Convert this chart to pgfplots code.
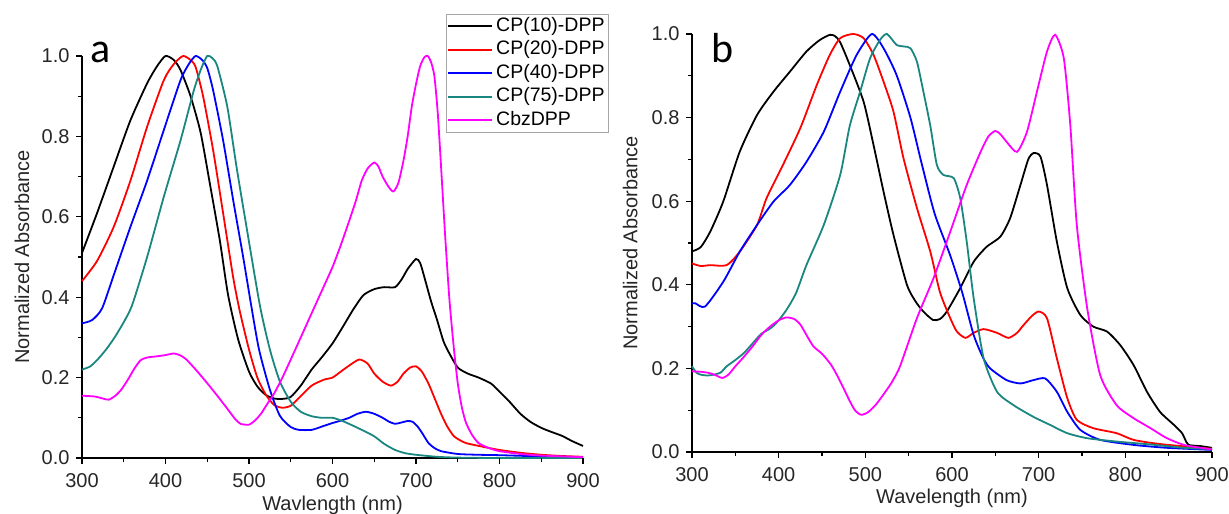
\documentclass[border=0pt]{standalone}
\usepackage{pgfplots}
\pgfplotsset{compat=1.18}
\usepackage{fontspec}
\setmainfont{Liberation Sans}
\newfontfamily\calibri{Carlito}
\definecolor{cteal}{RGB}{25,135,128}
\definecolor{cmag}{RGB}{255,0,255}
\definecolor{cred}{RGB}{255,0,0}
\definecolor{cblue}{RGB}{0,0,255}
\newcommand\myticks{%
  \pgfplotsinvokeforeach{300,400,500,600,700,800,900}{\draw[black, line width=1.3pt] (axis cs:##1,0) -- ++(0pt,-6pt);}%
  \pgfplotsinvokeforeach{350,450,550,650,750,850}{\draw[black, line width=1.3pt] (axis cs:##1,0) -- ++(0pt,-4pt);}%
  \pgfplotsinvokeforeach{0,0.2,0.4,0.6,0.8,1.0}{\draw[black, line width=1.3pt] (axis cs:300,##1) -- ++(-6pt,0pt);}%
  \pgfplotsinvokeforeach{0.1,0.3,0.5,0.7,0.9}{\draw[black, line width=1.3pt] (axis cs:300,##1) -- ++(-4pt,0pt);}%
}
\pgfplotsset{
  cv/.style={line width=1.8pt, smooth, tension=0.4},
  spec/.style={
    scale only axis,
    xmin=300, xmax=900, ymin=0, ymax=1.0,
    axis x line*=bottom, axis y line*=left,
    axis line style={line width=1.6pt},
    tick align=outside, major tick length=6pt, minor tick length=4pt,
    every tick/.style={draw=black, line width=1.3pt},
    xtick={300,400,500,600,700,800,900}, minor x tick num=1,
    ytick={0,0.2,0.4,0.6,0.8,1.0}, minor y tick num=1,
    /pgf/number format/assume math mode=true,
    tick label style={font=\fontsize{20}{23}\selectfont, color=black!85},
    x tick label style={yshift=-6pt},
    y tick label style={xshift=-3pt, /pgf/number format/fixed, /pgf/number format/fixed zerofill, /pgf/number format/precision=1},
    xlabel style={font=\fontsize{20}{24}\selectfont, color=black!85},
    ylabel style={font=\fontsize{20}{24}\selectfont, color=black!85},
    clip=false,
    legend image code/.code={\draw[#1] (0pt,0pt) -- (44pt,0pt);},
  }
}
\begin{document}
\begin{tikzpicture}
\useasboundingbox (0pt,0pt) rectangle (1229pt,514pt);
% ---------------- panel a ----------------
\begin{axis}[spec,
  at={(82pt,56pt)}, anchor=south west,
  width=501pt, height=402pt,
  xlabel={Wavlength (nm)}, ylabel={Normalized Absorbance},
  xlabel style={at={(axis description cs:0.5,-0.117)}, anchor=center},
  ylabel style={at={(axis description cs:-0.12,0.5)}, rotate=0, anchor=center},
  legend style={at={(axis description cs:0.7265,1.104)}, anchor=north west,
    draw=gray!70, line width=0.8pt, font=\fontsize{19.5}{22}\selectfont,
    cells={anchor=west}, inner xsep=1pt, inner ysep=0pt, row sep=0pt,
    nodes={inner sep=3pt, text height=13.5pt, text depth=4pt}},
]
\addplot[cv, black] coordinates {(300,0.51)(318,0.609)(338,0.725)(358,0.84)(378,0.932)(390,0.975)(400,1.0)(410,0.99)(418,0.965)(430,0.9)(442,0.81)(453,0.684)(465,0.542)(475,0.405)(487,0.295)(500,0.215)(510,0.178)(520,0.157)(530,0.148)(540,0.147)(550,0.152)(562,0.18)(575,0.22)(587,0.25)(600,0.285)(612,0.325)(625,0.37)(637,0.405)(650,0.42)(662,0.425)(675,0.425)(683,0.445)(690,0.47)(700,0.495)(705,0.485)(710,0.45)(718,0.39)(725,0.345)(733,0.29)(740,0.26)(750,0.225)(762,0.21)(775,0.2)(790,0.185)(800,0.165)(812,0.14)(825,0.11)(837,0.09)(850,0.075)(862,0.065)(875,0.055)(887,0.042)(900,0.03)};
\addlegendentry{CP(10)-DPP}
\addplot[cv, cred] coordinates {(300,0.44)(318,0.49)(338,0.575)(358,0.69)(378,0.824)(398,0.94)(410,0.98)(421,1.0)(430,0.99)(436,0.973)(445,0.9)(457,0.766)(469,0.609)(481,0.45)(489,0.365)(500,0.27)(510,0.2)(520,0.158)(530,0.132)(540,0.125)(550,0.13)(560,0.15)(575,0.18)(590,0.195)(600,0.2)(610,0.215)(620,0.23)(632,0.245)(642,0.235)(650,0.21)(660,0.19)(670,0.18)(678,0.19)(685,0.21)(693,0.225)(700,0.228)(707,0.215)(715,0.185)(722,0.15)(730,0.11)(737,0.08)(745,0.055)(752,0.045)(760,0.037)(780,0.028)(800,0.02)(825,0.013)(850,0.008)(875,0.005)(900,0.003)};
\addlegendentry{CP(20)-DPP}
\addplot[cv, cblue] coordinates {(300,0.335)(312,0.343)(324,0.372)(338,0.455)(358,0.575)(378,0.69)(398,0.816)(418,0.94)(428,0.98)(436,1.0)(444,0.99)(450,0.97)(457,0.915)(469,0.79)(481,0.642)(493,0.5)(503,0.375)(512,0.27)(525,0.17)(537,0.105)(550,0.077)(560,0.07)(575,0.07)(587,0.078)(600,0.087)(610,0.093)(620,0.1)(630,0.11)(640,0.115)(650,0.11)(660,0.1)(668,0.09)(675,0.085)(682,0.088)(690,0.092)(696,0.09)(702,0.078)(708,0.06)(715,0.037)(722,0.025)(730,0.017)(750,0.01)(775,0.008)(800,0.007)(850,0.004)(900,0.002)};
\addlegendentry{CP(40)-DPP}
\addplot[cv, cteal] coordinates {(300,0.22)(310,0.228)(320,0.248)(330,0.273)(340,0.303)(350,0.338)(360,0.38)(378,0.5)(398,0.65)(418,0.79)(434,0.915)(443,0.97)(450,1.0)(456,0.995)(462,0.975)(474,0.874)(485,0.725)(497,0.575)(513,0.38)(525,0.27)(537,0.19)(550,0.14)(562,0.115)(575,0.104)(587,0.1)(600,0.1)(612,0.092)(625,0.08)(637,0.068)(650,0.054)(662,0.035)(675,0.02)(687,0.012)(700,0.008)(725,0.003)(750,0.001)(800,0)(900,0)};
\addlegendentry{CP(75)-DPP}
\addplot[cv, cmag] coordinates {(300,0.155)(315,0.153)(325,0.148)(332,0.145)(340,0.155)(347,0.17)(355,0.195)(362,0.22)(370,0.243)(378,0.25)(390,0.253)(400,0.256)(410,0.26)(418,0.255)(425,0.245)(437,0.218)(450,0.186)(462,0.155)(475,0.12)(483,0.098)(490,0.085)(500,0.083)(508,0.095)(515,0.112)(522,0.135)(530,0.16)(540,0.2)(550,0.245)(562,0.3)(575,0.36)(587,0.415)(600,0.475)(610,0.53)(620,0.59)(628,0.64)(635,0.69)(642,0.72)(650,0.735)(655,0.725)(660,0.70)(667,0.675)(673,0.663)(679,0.685)(685,0.74)(690,0.8)(695,0.875)(700,0.93)(705,0.975)(710,0.997)(714,1.0)(718,0.985)(722,0.95)(726,0.86)(730,0.725)(735,0.55)(740,0.395)(745,0.28)(750,0.186)(755,0.125)(760,0.087)(767,0.058)(775,0.037)(787,0.025)(800,0.017)(825,0.01)(850,0.006)(875,0.004)(900,0.002)};
\addlegendentry{CbzDPP}
\myticks
\node[anchor=base west, font=\calibri\fontsize{42}{46}\selectfont, inner sep=0pt] at (axis description cs:0.016,0.985) {a};
\end{axis}
% ---------------- panel b ----------------
\begin{axis}[spec,
  at={(692pt,62pt)}, anchor=south west,
  width=520pt, height=418pt,
  xlabel={Wavelength (nm)}, ylabel={Normalized Absorbance},
  xlabel style={at={(axis description cs:0.5,-0.112)}, anchor=center},
  ylabel style={at={(axis description cs:-0.119,0.5)}, rotate=0, anchor=center},
]
\addplot[cv, black] coordinates {(300,0.48)(310,0.49)(321,0.527)(336,0.599)(355,0.718)(375,0.806)(394,0.862)(413,0.91)(432,0.958)(447,0.985)(459,0.998)(465,0.995)(471,0.98)(482,0.926)(498,0.838)(509.5,0.734)(521,0.623)(532.5,0.519)(548,0.4)(558,0.36)(567,0.336)(578,0.316)(586,0.318)(594,0.336)(609.5,0.392)(625,0.455)(640,0.491)(655.7,0.515)(667,0.559)(679,0.639)(688,0.7)(694,0.715)(702,0.707)(709.6,0.639)(721,0.503)(733,0.392)(748,0.328)(763,0.30)(779,0.288)(794,0.256)(809.5,0.208)(825,0.144)(840,0.096)(856,0.065)(865.5,0.045)(869,0.03)(873,0.017)(887,0.014)(900,0.01)};
\addplot[cv, cred] coordinates {(300,0.451)(310,0.445)(321,0.447)(340,0.447)(355,0.479)(375,0.543)(386,0.607)(405,0.687)(425,0.775)(444,0.878)(459,0.95)(471,0.99)(486,1.0)(498,0.99)(509.5,0.95)(521,0.886)(532.5,0.814)(544,0.703)(559.5,0.584)(575,0.479)(586,0.383)(598,0.32)(605.7,0.288)(615.5,0.273)(625,0.285)(636.5,0.294)(652,0.285)(665,0.273)(675,0.285)(682.7,0.304)(692,0.325)(700,0.336)(709.6,0.32)(721,0.224)(733,0.129)(744,0.077)(763,0.057)(790,0.045)(809.5,0.029)(840,0.019)(887,0.01)(900,0.008)};
\addplot[cv, cblue] coordinates {(300,0.355)(303.5,0.356)(315,0.348)(336,0.407)(355,0.479)(375,0.543)(394,0.599)(413,0.639)(432,0.694)(452,0.766)(471,0.862)(490,0.95)(507.5,1.0)(521,0.966)(536,0.902)(552,0.8)(565,0.69)(580,0.57)(598,0.47)(612,0.38)(625,0.28)(636,0.225)(644,0.2)(663,0.172)(679,0.164)(694,0.172)(707.6,0.176)(721,0.144)(733,0.096)(748,0.053)(771,0.029)(809.5,0.017)(848,0.01)(900,0.005)};
\addplot[cv, cteal] coordinates {(300,0.205)(305,0.19)(310,0.185)(318,0.183)(325,0.185)(333,0.19)(340,0.205)(350,0.22)(360,0.237)(370,0.26)(380,0.283)(390,0.295)(398,0.31)(409,0.34)(420,0.38)(432,0.447)(452,0.543)(471,0.663)(482,0.78)(494,0.862)(505.5,0.942)(517,0.986)(525,1.0)(536,0.974)(545,0.97)(552,0.966)(559.5,0.934)(567,0.862)(575,0.78)(582.5,0.687)(590,0.663)(602,0.655)(609.5,0.607)(617,0.503)(625,0.368)(636.5,0.224)(652,0.144)(671,0.112)(694,0.084)(713,0.065)(733,0.045)(756,0.033)(790,0.025)(829,0.018)(867.5,0.01)(900,0.007)};
\addplot[cv, cmag] coordinates {(300,0.193)(310,0.192)(320,0.189)(328,0.183)(335,0.177)(342,0.185)(350,0.205)(360,0.228)(370,0.253)(380,0.28)(390,0.3)(400,0.315)(409,0.322)(418,0.318)(425,0.305)(432,0.28)(440,0.253)(450,0.235)(460,0.21)(467,0.185)(475,0.152)(482,0.122)(488,0.1)(495,0.089)(503,0.095)(512,0.113)(520,0.135)(530,0.165)(540,0.205)(559.5,0.32)(578.7,0.416)(598,0.527)(617,0.639)(633,0.718)(642,0.755)(650,0.768)(656,0.76)(663,0.742)(675,0.718)(686.5,0.766)(698,0.862)(709.6,0.958)(719,0.998)(729,0.942)(736.5,0.782)(744,0.543)(756,0.344)(771,0.184)(790,0.112)(809.5,0.081)(829,0.057)(848,0.033)(867.5,0.017)(887,0.01)(900,0.006)};
\myticks
\node[anchor=base west, font=\calibri\fontsize{42}{46}\selectfont, inner sep=0pt] at (axis description cs:0.037,0.933) {b};
\end{axis}
\end{tikzpicture}
\end{document}
